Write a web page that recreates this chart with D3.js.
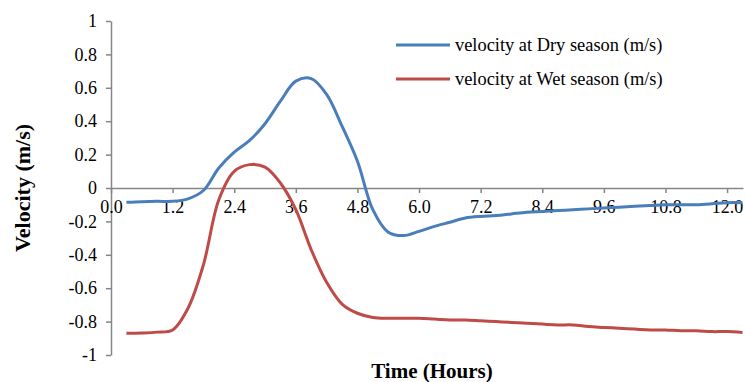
<!DOCTYPE html>
<html>
<head>
<meta charset="utf-8">
<script src="https://cdn.jsdelivr.net/npm/d3@7"></script>
<style>
  body { margin: 0; background: #fff; }
  svg { display: block; }
</style>
</head>
<body>
<svg id="chart" width="745" height="382"></svg>
<script>
const width = 745;
const height = 382;

// time in hours, one reading every 0.3 h
const hours = [0.3, 0.6, 0.9, 1.2, 1.5, 1.8, 2.1, 2.4, 2.7, 3.0,
  3.3, 3.6, 3.9, 4.2, 4.5, 4.8, 5.1, 5.4, 5.7, 6.0,
  6.3, 6.6, 6.9, 7.2, 7.5, 7.8, 8.1, 8.4, 8.7, 9.0,
  9.3, 9.6, 9.9, 10.2, 10.5, 10.8, 11.1, 11.4, 11.7, 12.0, 12.3];

const dryVelocity = [-0.086, -0.082, -0.08, -0.08, -0.065, -0.015, 0.12, 0.215, 0.285, 0.385,
  0.52, 0.64, 0.655, 0.56, 0.37, 0.16, -0.13, -0.265, -0.285, -0.26,
  -0.23, -0.205, -0.18, -0.17, -0.165, -0.155, -0.145, -0.14, -0.135, -0.13,
  -0.125, -0.12, -0.115, -0.11, -0.105, -0.10, -0.10, -0.10, -0.095, -0.088, -0.088];

const wetVelocity = [-0.87, -0.868, -0.863, -0.85, -0.72, -0.46, -0.07, 0.10, 0.14, 0.125,
  0.03, -0.13, -0.37, -0.565, -0.695, -0.75, -0.775, -0.78, -0.78, -0.78,
  -0.785, -0.79, -0.79, -0.795, -0.80, -0.805, -0.81, -0.815, -0.82, -0.82,
  -0.83, -0.835, -0.84, -0.845, -0.85, -0.85, -0.855, -0.855, -0.86, -0.86, -0.865];

const seriesNames = ["velocity at Dry season (m/s)", "velocity at Wet season (m/s)"];
const seriesColors = ["#4a7ebb", "#be4b48"];

const xTicks = [0, 1.2, 2.4, 3.6, 4.8, 6.0, 7.2, 8.4, 9.6, 10.8, 12.0];
const yTicks = [-1, -0.8, -0.6, -0.4, -0.2, 0, 0.2, 0.4, 0.6, 0.8, 1];

const margin = { top: 21, bottom: 27, left: 111, right: 2 };
const serif = "'Liberation Serif', 'Times New Roman', Times, serif";
const axisColor = "#868686";

const svg = d3.select("svg#chart");

/* SCALES */
const x = d3.scaleLinear()
  .domain([0, 12.31])
  .range([margin.left, width - margin.right]);

const y = d3.scaleLinear()
  .domain([-1, 1])
  .range([height - margin.bottom, margin.top]);

/* Y AXIS */
const yAxis = d3.axisLeft(y)
  .tickValues(yTicks)
  .tickSize(5)
  .tickSizeOuter(0)
  .tickFormat(d => String(+d.toFixed(1)));

const yGroup = svg.append("g")
  .attr("transform", translate(margin.left, 0))
  .call(yAxis)
  .attr("font-family", serif)
  .attr("font-size", 18);
yGroup.select(".domain").attr("stroke", axisColor).attr("stroke-width", 1.5);
yGroup.selectAll(".tick line").attr("stroke", axisColor).attr("stroke-width", 1.5);
yGroup.selectAll(".tick text")
  .attr("x", -14)
  .attr("fill", "#000");

/* X AXIS at zero */
const xAxis = d3.axisBottom(x)
  .tickValues(xTicks)
  .tickSize(5)
  .tickSizeOuter(0)
  .tickFormat(d3.format(".1f"));

const xGroup = svg.append("g")
  .attr("transform", translate(0, y(0)))
  .call(xAxis)
  .attr("font-family", serif)
  .attr("font-size", 18);
xGroup.select(".domain").attr("stroke", axisColor).attr("stroke-width", 1.5);
xGroup.selectAll(".tick line").attr("stroke", axisColor).attr("stroke-width", 1.5);
xGroup.selectAll(".tick text")
  .attr("y", 12)
  .attr("fill", "#000");

/* LINES */
const allSeries = [dryVelocity, wetVelocity];

const line = d3.line()
  .x((d, i) => x(hours[i]))
  .y(d => y(d))
  .curve(d3.curveCatmullRom.alpha(0.5));

svg.append("g")
  .selectAll("path")
  .data(allSeries)
  .enter()
  .append("path")
  .attr("d", line)
  .attr("fill", "none")
  .attr("stroke", (d, i) => seriesColors[i])
  .attr("stroke-width", 3)
  .attr("stroke-linejoin", "round");

/* LEGEND */
const legend = svg.append("g").attr("transform", translate(396, 45));
const items = legend.selectAll("g")
  .data(seriesNames)
  .enter()
  .append("g")
  .attr("transform", (d, i) => translate(0, i * 34));

items.append("line")
  .attr("x1", 0)
  .attr("x2", 54)
  .attr("stroke", (d, i) => seriesColors[i])
  .attr("stroke-width", 3);

items.append("text")
  .attr("x", 59)
  .attr("dy", "0.35em")
  .style("font-family", serif)
  .style("font-size", "18.4px")
  .text(d => d);

/* AXIS TITLES */
svg.append("text")
  .attr("x", 432)
  .attr("y", 378)
  .attr("text-anchor", "middle")
  .style("font-family", serif)
  .style("font-size", "21px")
  .style("font-weight", "bold")
  .text("Time (Hours)");

svg.append("text")
  .attr("transform", translate(22, 188) + " rotate(-90)")
  .attr("dy", "0.35em")
  .attr("text-anchor", "middle")
  .style("font-family", serif)
  .style("font-size", "22px")
  .style("font-weight", "bold")
  .text("Velocity (m/s)");

function translate(a, b) {
  return "translate(" + a + "," + b + ")";
}
</script>
</body>
</html>
